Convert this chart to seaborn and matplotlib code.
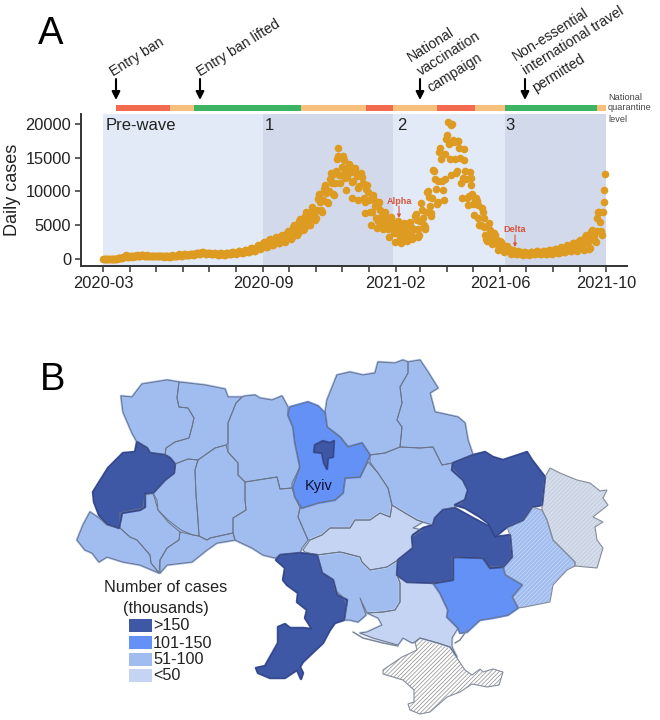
# Daily cases timeline + map of cases per region
import matplotlib
matplotlib.use("Agg")
import matplotlib.pyplot as plt
import numpy as np
import pandas as pd
import seaborn as sns

start_date = "2020-03-01"
daily_cases = [
    0, 0, 1, 1, 1, 3, 3,
    1, 1, 3, 7, 10, 16, 26,
    41, 47, 73, 84, 97, 113, 156,
    196, 218, 310, 356, 418, 475, 549,
    290, 310, 380, 340, 420, 390, 360,
    420, 440, 510, 480, 530, 500, 470,
    450, 480, 560, 520, 540, 500, 470,
    430, 470, 520, 510, 490, 470, 440,
    420, 450, 500, 480, 490, 440, 410,
    400, 430, 480, 470, 450, 420, 380,
    370, 410, 460, 440, 420, 390, 350,
    340, 420, 520, 490, 470, 440, 400,
    380, 450, 620, 680, 560, 520, 470,
    480, 560, 680, 720, 660, 600, 530,
    550, 640, 780, 760, 730, 680, 600,
    620, 760, 900, 880, 950, 830, 720,
    700, 820, 1000, 980, 900, 860, 740,
    730, 850, 960, 940, 880, 800, 700,
    680, 780, 890, 870, 810, 760, 660,
    650, 760, 860, 850, 800, 740, 640,
    660, 790, 900, 880, 860, 790, 690,
    700, 860, 1040, 1010, 960, 880, 780,
    820, 990, 1200, 1170, 1100, 1000, 880,
    900, 1100, 1350, 1320, 1250, 1130, 1000,
    1050, 1300, 1600, 1560, 1480, 1320, 1150,
    1200, 1500, 1850, 2100, 1950, 1700, 1500,
    1600, 1900, 2300, 2500, 2400, 2100, 1800,
    1800, 2300, 2800, 2900, 2700, 2400, 2000,
    2100, 2600, 3000, 3200, 3100, 2700, 2300,
    2400, 2900, 3400, 3500, 3300, 3000, 2500,
    2700, 3300, 3900, 4100, 4000, 3500, 2900,
    3200, 4000, 4700, 5000, 4800, 4200, 3500,
    3800, 4700, 5700, 5900, 5600, 5000, 4300,
    4500, 5400, 6400, 7000, 6600, 5900, 5000,
    5000, 6100, 7300, 7700, 7400, 6700, 5800,
    6000, 7300, 8900, 9700, 9400, 8400, 7200,
    7000, 8700, 10300, 11000, 10800, 9800, 8500,
    8300, 10100, 11900, 12700, 12400, 11200, 9700,
    9500, 11200, 13000, 14800, 16500, 15200, 12500,
    11200, 12500, 13700, 15300, 14700, 13200, 12000,
    10200, 12100, 13600, 14100, 13800, 12900, 11400,
    9000, 11500, 13300, 13500, 12800, 12300, 10500,
    8800, 10800, 12500, 12800, 12200, 11200, 9000,
    6800, 8500, 10300, 11000, 9900, 8800, 6900,
    5000, 7000, 9200, 9500, 8700, 7900, 6000,
    4600, 5600, 8100, 8400, 7200, 6200, 5000,
    4400, 5400, 7000, 6700, 6000, 5100, 4500,
    3300, 4800, 6200, 6000, 5500, 4500, 3800,
    2500, 3800, 5300, 5700, 5100, 4300, 3100,
    2300, 3500, 5000, 5300, 5000, 4100, 3200,
    2600, 3400, 5300, 5500, 4800, 3900, 3000,
    3300, 4400, 6400, 6600, 5800, 4500, 3300,
    3500, 5700, 8300, 7200, 6100, 5000, 4500,
    4700, 6900, 9900, 10100, 9200, 7800, 6400,
    6800, 9100, 13200, 13000, 11800, 10300, 8200,
    8400, 11500, 15800, 16500, 14800, 11600, 10200,
    8700, 11800, 15500, 17800, 18300, 20300, 17000,
    14800, 12500, 19800, 20000, 17600, 17400, 14800,
    12700, 13000, 17500, 17500, 16400, 14900, 11200,
    9000, 12000, 16300, 14700, 13000, 11800, 9000,
    8000, 9300, 12900, 12000, 10900, 9700, 8200,
    6500, 8700, 9100, 8600, 8000, 6100, 5100,
    5000, 5100, 7600, 7000, 6000, 4700, 3500,
    2900, 2600, 5000, 5300, 4300, 3600, 2700,
    2200, 2800, 3800, 3500, 3000, 2500, 2000,
    1400, 2100, 2700, 2500, 2200, 1700, 1300,
    1000, 1300, 1800, 1900, 1700, 1300, 1000,
    800, 1000, 1300, 1300, 1200, 1000, 800,
    700, 900, 1200, 1100, 1000, 800, 700,
    650, 800, 1100, 1050, 950, 800, 700,
    650, 850, 1100, 1100, 1000, 850, 700,
    700, 880, 1150, 1120, 1020, 880, 720,
    720, 950, 1250, 1200, 1100, 920, 750,
    750, 1000, 1350, 1300, 1200, 1000, 800,
    850, 1100, 1500, 1450, 1350, 1150, 950,
    950, 1300, 1750, 1700, 1550, 1300, 1050,
    1050, 1500, 2000, 1950, 1800, 1500, 1200,
    1200, 1700, 2350, 2300, 2150, 1800, 1400,
    1200, 2000, 2700, 2800, 2600, 2200, 1500,
    1400, 2400, 3200, 3500, 3100, 2500, 1500,
    1600, 3200, 4000, 4300, 3900, 3400, 2600,
    2500, 4200, 6100, 6900, 7000, 5500, 4100,
    3500, 7000, 8400, 10200, 12600,
]

# quarantine level bar
level_edges = ["2020-03-16", "2020-05-17", "2020-06-14", "2020-10-15", "2020-12-29",
               "2021-01-29", "2021-03-20", "2021-05-03", "2021-06-07", "2021-09-21", "2021-10-01"]
level_names = ["red", "orange", "green", "orange", "red", "orange", "red", "orange", "green", "orange"]
level_colors = {"red": "#f26b4e", "orange": "#f7c07c", "green": "#3cb463"}

wave_edges = ["2020-03-01", "2020-09-01", "2021-01-29", "2021-06-07", "2021-10-01"]
wave_colors = ["#e3eaf7", "#d2d9ea", "#e3eaf7", "#d2d9ea"]
wave_labels = ["Pre-wave", "1", "2", "3"]
labelled_ticks = {"2020-03": "2020-03", "2020-09": "2020-09", "2021-02": "2021-02",
                  "2021-06": "2021-06", "2021-10": "2021-10"}
y_ticks = [0, 5000, 10000, 15000, 20000]

# map outlines in pixels
volyn = [(121, 396), (132, 397), (142, 384), (167, 380), (179, 382), (177, 398), (179, 407), (188, 408), (194, 418), (192, 427), (189, 438), (175, 442), (166, 448), (165, 455), (150, 453), (147, 448), (137, 442), (132, 433), (123, 412)]
rivne = [(179, 382), (205, 385), (225, 389), (228, 397), (242, 397), (236, 403), (228, 423), (228, 443), (226, 445), (215, 448), (198, 460), (188, 459), (175, 464), (170, 458), (165, 455), (166, 448), (175, 442), (189, 438), (192, 427), (194, 418), (188, 408), (179, 407), (177, 398)]
zhytomyr = [(242, 397), (245, 396), (255, 395), (260, 398), (272, 400), (282, 396), (288, 407), (288, 415), (293, 427), (295, 443), (300, 467), (292, 483), (292, 488), (280, 489), (277, 477), (245, 482), (238, 475), (238, 463), (228, 452), (228, 443), (228, 423), (236, 403)]
lviv = [(137, 442), (147, 448), (150, 453), (165, 455), (170, 458), (175, 464), (174, 473), (165, 480), (153, 493), (145, 493), (145, 507), (140, 510), (122, 513), (119, 528), (107, 524), (99, 515), (94, 502), (93, 492), (108, 468), (123, 453), (135, 452)]
ternopil = [(175, 464), (188, 459), (198, 460), (195, 470), (196, 495), (198, 520), (199, 536), (193, 535), (181, 530), (168, 520), (158, 510), (157, 500), (153, 493), (165, 480), (174, 473)]
khmelnytskyi = [(198, 460), (215, 448), (226, 445), (228, 452), (238, 463), (238, 475), (245, 482), (245, 500), (246, 510), (233, 518), (233, 533), (210, 538), (207, 540), (199, 536), (198, 520), (196, 495), (195, 470)]
vinnytsia = [(245, 482), (277, 477), (280, 489), (292, 488), (295, 497), (300, 508), (298, 517), (308, 540), (302, 548), (300, 553), (280, 555), (275, 558), (263, 555), (252, 548), (235, 540), (233, 533), (233, 518), (246, 510), (245, 500)]
chernivtsi = [(180, 532), (193, 535), (199, 536), (207, 540), (210, 538), (233, 533), (235, 540), (217, 543), (207, 550), (192, 562), (167, 565), (160, 573), (160, 560), (167, 548), (179, 540)]
frankivsk = [(120, 513), (143, 508), (145, 495), (153, 493), (158, 510), (168, 522), (180, 532), (179, 540), (167, 548), (160, 560), (159, 573), (151, 563), (150, 555), (137, 540), (130, 537), (120, 528)]
zakarpattia = [(90, 512), (99, 518), (107, 525), (120, 528), (130, 537), (137, 540), (150, 555), (151, 563), (159, 573), (140, 565), (123, 562), (107, 557), (99, 562), (92, 553), (85, 550), (77, 540), (83, 525)]
kyiv_oblast = [(288, 415), (290, 407), (308, 402), (318, 406), (325, 413), (327, 427), (340, 437), (348, 447), (362, 443), (370, 455), (360, 477), (345, 478), (343, 493), (335, 500), (318, 503), (302, 508), (295, 497), (293, 487), (300, 467), (295, 443), (293, 427)]
kyiv_city = [(315, 445), (323, 441), (330, 443), (334, 441), (333, 457), (328, 458), (327, 469), (324, 463), (322, 453), (314, 452)]
cherkasy = [(302, 508), (318, 503), (335, 500), (343, 493), (345, 478), (360, 477), (368, 462), (378, 473), (388, 488), (392, 505), (390, 517), (380, 513), (370, 520), (355, 520), (350, 528), (330, 528), (322, 535), (310, 540), (308, 540), (298, 517), (300, 508)]
kirovohrad = [(303, 550), (310, 540), (322, 535), (330, 528), (350, 528), (355, 520), (370, 520), (380, 513), (390, 517), (392, 505), (405, 513), (417, 520), (423, 522), (413, 528), (422, 530), (412, 537), (413, 548), (398, 560), (387, 567), (370, 570), (362, 562), (360, 557), (345, 553), (340, 552), (317, 555), (305, 552)]
poltava = [(370, 455), (385, 453), (400, 447), (420, 448), (433, 447), (442, 465), (452, 463), (452, 468), (463, 480), (468, 490), (465, 500), (455, 507), (443, 510), (435, 518), (433, 525), (423, 522), (417, 520), (405, 513), (392, 505), (388, 488), (378, 473), (370, 462)]
chernihiv = [(325, 413), (327, 400), (337, 375), (350, 372), (363, 375), (375, 373), (378, 362), (395, 363), (403, 360), (408, 362), (408, 373), (400, 387), (402, 403), (397, 420), (402, 427), (400, 447), (385, 453), (370, 455), (362, 443), (348, 447), (340, 437), (327, 427)]
sumy = [(408, 362), (420, 360), (428, 372), (438, 388), (430, 393), (435, 412), (458, 417), (465, 423), (468, 440), (473, 455), (453, 463), (442, 465), (433, 447), (420, 448), (400, 447), (402, 427), (397, 420), (402, 403), (400, 387), (408, 373)]
kharkiv = [(453, 463), (473, 455), (485, 452), (493, 457), (503, 460), (512, 457), (527, 452), (532, 460), (545, 477), (542, 505), (532, 507), (523, 520), (507, 527), (495, 537), (488, 523), (480, 517), (465, 508), (455, 505), (465, 500), (468, 490), (463, 480), (452, 470)]
dnipro = [(413, 535), (423, 528), (433, 525), (435, 518), (443, 510), (455, 508), (473, 518), (490, 527), (495, 537), (510, 535), (512, 557), (503, 567), (490, 568), (483, 558), (453, 557), (453, 580), (435, 583), (407, 582), (397, 575), (398, 560), (413, 548), (412, 537)]
zaporizhzhia = [(452, 557), (483, 558), (488, 567), (503, 567), (505, 575), (522, 585), (512, 597), (518, 608), (508, 615), (493, 618), (480, 620), (467, 632), (460, 633), (458, 628), (447, 617), (448, 610), (440, 593), (433, 583), (453, 580)]
donetsk = [(507, 527), (523, 520), (532, 507), (542, 510), (547, 520), (553, 540), (570, 557), (575, 562), (575, 566), (567, 570), (553, 585), (550, 602), (525, 607), (518, 608), (512, 597), (522, 585), (505, 575), (503, 567), (512, 557), (510, 535)]
luhansk = [(542, 505), (545, 477), (550, 468), (560, 473), (577, 480), (590, 483), (600, 491), (607, 490), (603, 498), (608, 505), (593, 517), (603, 522), (595, 527), (597, 540), (603, 548), (597, 568), (575, 566), (575, 562), (570, 557), (553, 540), (547, 520), (542, 510)]
kherson = [(397, 575), (407, 582), (433, 583), (440, 593), (448, 610), (447, 617), (458, 628), (452, 638), (452, 647), (457, 657), (450, 647), (438, 643), (420, 638), (415, 642), (412, 643), (403, 638), (398, 645), (380, 640), (373, 638), (360, 633), (367, 632), (382, 625), (378, 618), (367, 613), (383, 612), (395, 610), (400, 602), (400, 583)]
mykolaiv = [(317, 555), (340, 552), (360, 557), (362, 562), (370, 570), (387, 567), (398, 560), (397, 575), (400, 583), (400, 602), (395, 610), (383, 612), (367, 613), (360, 598), (366, 615), (358, 622), (350, 620), (344, 620), (347, 605), (343, 597), (335, 590), (333, 580), (322, 573)]
odesa = [(276, 560), (280, 555), (300, 553), (317, 555), (322, 573), (333, 580), (337, 595), (347, 600), (344, 620), (335, 623), (330, 630), (323, 643), (303, 662), (300, 667), (303, 673), (301, 679), (297, 670), (285, 678), (270, 678), (258, 673), (256, 668), (265, 666), (278, 643), (278, 627), (285, 624), (290, 628), (303, 628), (312, 629), (305, 618), (307, 610), (297, 602), (298, 593), (287, 585), (283, 580), (285, 568)]
crimea = [(415, 642), (420, 638), (438, 643), (450, 647), (457, 658), (465, 670), (472, 675), (480, 669), (483, 672), (493, 669), (503, 672), (499, 685), (487, 687), (472, 684), (460, 692), (447, 697), (430, 712), (420, 714), (410, 710), (408, 704), (414, 702), (414, 690), (403, 680), (383, 674), (383, 670), (402, 657), (417, 650)]

color_high = "#3f58a6"
color_mid = "#6391f5"
color_low = "#a1bdf0"
color_least = "#c4d4f2"
map_regions = [
    (volyn, color_low), (rivne, color_low), (zhytomyr, color_low), (ternopil, color_low),
    (khmelnytskyi, color_low), (vinnytsia, color_low), (chernivtsi, color_low), (frankivsk, color_low),
    (zakarpattia, color_low), (cherkasy, color_low), (poltava, color_low), (chernihiv, color_low),
    (sumy, color_low), (mykolaiv, color_low), (kirovohrad, color_least), (kherson, color_least),
    (kyiv_oblast, color_mid), (zaporizhzhia, color_mid), (lviv, color_high), (kharkiv, color_high),
    (dnipro, color_high), (odesa, color_high), (kyiv_city, color_high),
]
# hatched regions: polygon, fill, hatch colour
hatched_regions = [(donetsk, "#a1bdf0", "#c8d8f6"), (luhansk, "#d6deec", "#bcc7db"), (crimea, "#ffffff", "#8a8a8a")]
tendra_spit = [(353, 632), (363, 638), (383, 643), (398, 646)]
arabat_spit = [(467, 630), (460, 640), (455, 643)]

legend_labels = [">150", "101-150", "51-100", "<50"]
legend_colors = [color_high, color_mid, color_low, color_least]

sns.set_theme(style="white")
plt.rcParams["font.family"] = ["Liberation Sans", "DejaVu Sans"]
plt.rcParams["hatch.linewidth"] = 0.5

df = pd.DataFrame({"date": pd.date_range(start_date, periods=len(daily_cases)), "cases": daily_cases})

fig = plt.figure(figsize=(6.6, 7.2), dpi=100)
ax = fig.add_axes([81 / 660, 1 - 266 / 720, 546 / 660, 152 / 720])
ax.patch.set_alpha(0)

for i in range(4):
    ax.axvspan(pd.Timestamp(wave_edges[i]), pd.Timestamp(wave_edges[i + 1]), color=wave_colors[i], lw=0, zorder=0)

sns.scatterplot(data=df, x="date", y="cases", color="#dd9b22", s=30, linewidth=0, ax=ax, zorder=3, clip_on=False)

for i, name in enumerate(level_names):
    left = pd.Timestamp(level_edges[i])
    right = pd.Timestamp(level_edges[i + 1])
    ax.barh(22370, right - left, left=left, height=890, color=level_colors[name], clip_on=False, lw=0)

ax.set_xlim(pd.Timestamp(start_date) - pd.Timedelta(days=25.3), pd.Timestamp(start_date) + pd.Timedelta(days=603))
ax.set_ylim(-1037, 21480)
months = pd.date_range("2020-03-01", "2021-10-01", freq="MS")
ax.set_xticks(months)
ax.set_xticklabels([labelled_ticks.get(m.strftime("%Y-%m"), "") for m in months], fontsize=11.8, color="#222222")
ax.set_yticks(y_ticks)
ax.set_yticklabels([str(v) for v in y_ticks], fontsize=11.8, color="#222222")
ax.tick_params(axis="both", length=4, width=1.1, color="#333333", pad=3, bottom=True, left=True)
ax.set_xlabel("")
ax.set_ylabel("")
for side in ["top", "right"]:
    ax.spines[side].set_visible(False)
for side in ["left", "bottom"]:
    ax.spines[side].set_color("#333333")
    ax.spines[side].set_linewidth(1.4)

# everything else lives on a pixel canvas over the whole figure
canvas = fig.add_axes([0, 0, 1, 1], zorder=5)
canvas.set_xlim(0, 660)
canvas.set_ylim(720, 0)
canvas.axis("off")

canvas.text(38, 44, "A", fontsize=27.5, color="black", va="baseline")
canvas.text(40, 390, "B", fontsize=27.5, color="black", va="baseline")
canvas.text(13, 190, "Daily cases", fontsize=13, rotation=90, ha="center", va="center", color="#222222")

# one text per line, the rotated block otherwise pokes out of the figure
event_notes = [
    (115, 79, "Entry ban"),
    (202, 79, "Entry ban lifted"),
    (412, 65, "National"),
    (423, 79, "vaccination"),
    (432, 95, "campaign"),
    (517, 64, "Non-essential"),
    (528, 78, "international travel"),
    (537, 95, "permitted"),
]
for x, y, note in event_notes:
    canvas.text(x, y, note, fontsize=10.2, rotation=32, ha="left", va="bottom", rotation_mode="anchor", color="#222222")
for x in [116, 200, 420, 525]:
    canvas.annotate("", xy=(x, 100), xytext=(x, 79), arrowprops=dict(arrowstyle="-|>", color="black", lw=1.5, shrinkA=0, shrinkB=0))

canvas.text(608, 97, "National", fontsize=6.6, color="#444444", va="center")
canvas.text(608, 108, "quarantine", fontsize=6.6, color="#444444", va="center")
canvas.text(608, 120, "level", fontsize=6.6, color="#444444", va="center")

for x, label in zip([106, 265, 397, 505], wave_labels):
    canvas.text(x, 125, label, fontsize=12, color="#222222", va="center")

for x, y, label in [(399, 201, "Alpha"), (515, 230, "Delta")]:
    canvas.text(x, y, label, fontsize=6.6, fontweight="bold", color="#d8543c", ha="center", va="center")
    canvas.annotate("", xy=(x, y + 17), xytext=(x, y + 5), arrowprops=dict(arrowstyle="-|>", color="#d8543c", lw=0.8, mutation_scale=5, shrinkA=0, shrinkB=0))

# map: fills first with a little bleed so neighbours touch, outlines on top
for outline, fill, hatch_color in hatched_regions:
    xs, ys = zip(*outline)
    canvas.fill(xs, ys, facecolor=fill, edgecolor=hatch_color, hatch="////////", lw=0)
for outline, fill in map_regions:
    xs, ys = zip(*outline)
    canvas.fill(xs, ys, facecolor=fill, edgecolor=fill, lw=1.8, joinstyle="round")
for outline, fill, hatch_color in hatched_regions:
    xs, ys = zip(*outline)
    canvas.fill(xs, ys, facecolor="none", edgecolor="#848d9b", lw=0.8)
for outline, fill in map_regions:
    xs, ys = zip(*outline)
    edge = "#33427f" if fill == color_high else "#6a7488"
    canvas.fill(xs, ys, facecolor="none", edgecolor=edge, lw=0.7, joinstyle="round")
for spit in [tendra_spit, arabat_spit]:
    xs, ys = zip(*spit)
    canvas.plot(xs, ys, color="#7d8796", lw=1.1)
canvas.text(319, 486, "Kyiv", fontsize=10.5, color="#111133", ha="center", va="center")

# legend
canvas.text(166, 588, "Number of cases", fontsize=11.7, color="#222222", ha="center", va="center")
canvas.text(166, 608, "(thousands)", fontsize=11.7, color="#222222", ha="center", va="center")
for y, label, fill in zip([619, 636, 652.5, 669], legend_labels, legend_colors):
    canvas.fill([129, 152, 152, 129], [y, y, y + 13, y + 13], facecolor=fill, lw=0)
    canvas.text(153, y + 7, label, fontsize=11.7, color="#222222", va="center")

fig.savefig("out.png", dpi=100)
